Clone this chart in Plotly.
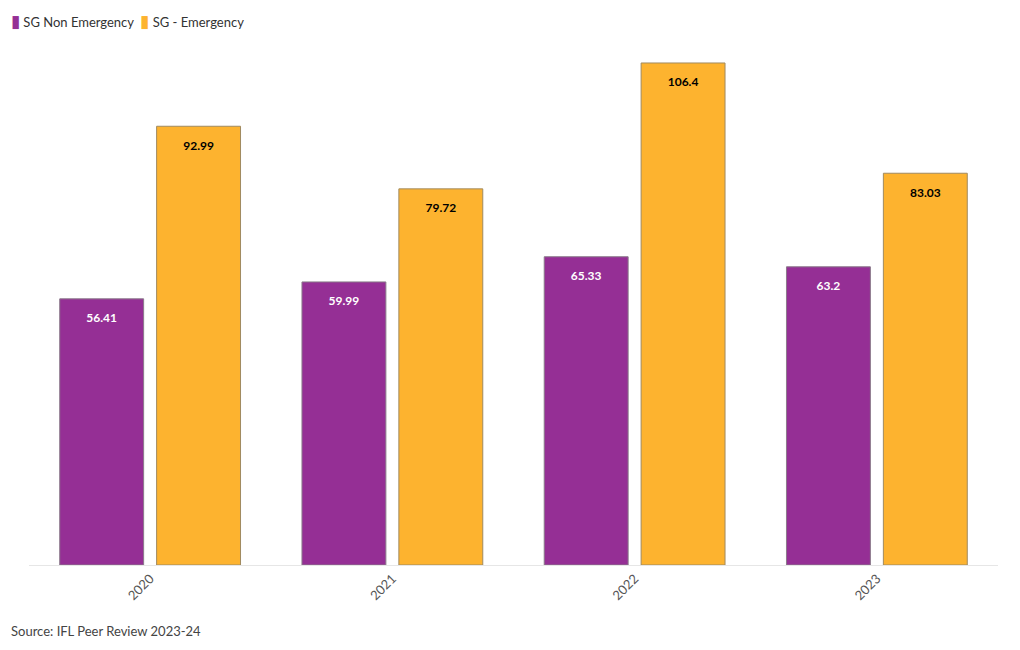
import plotly.graph_objects as go

years = ["2020", "2021", "2022", "2023"]
non_emergency = [56.41, 59.99, 65.33, 63.2]
emergency = [92.99, 79.72, 106.4, 83.03]
series_names = ["SG Non Emergency", "SG - Emergency"]
series_colors = ["#952f95", "#fdb32f"]
source_text = "Source: IFL Peer Review 2023-24"

FONT = "Lato, 'Noto Sans', sans-serif"
LABEL_TMPL = "&nbsp;<br><span style='font-size:12px'><b>%{text}</b></span>"

fig = go.Figure()
fig.add_trace(go.Bar(
    x=years, y=non_emergency, name=series_names[0],
    marker=dict(color=series_colors[0], line=dict(color="#8a7a8a", width=1)),
    text=[str(v) for v in non_emergency], texttemplate=LABEL_TMPL,
    textposition="inside", insidetextanchor="end", textangle=0,
    textfont=dict(color="white", size=8.7, family=FONT),
))
fig.add_trace(go.Bar(
    x=years, y=emergency, name=series_names[1],
    marker=dict(color=series_colors[1], line=dict(color="#a08a60", width=1)),
    text=[str(v) for v in emergency], texttemplate=LABEL_TMPL,
    textposition="inside", insidetextanchor="end", textangle=0,
    textfont=dict(color="black", size=8.7, family=FONT),
))

legend_text = "&nbsp;&nbsp;".join(
    f"<span style='color:{c};font-size:17px'>▮</span> {n}"
    for n, c in zip(series_names, series_colors)
)

fig.update_layout(
    width=1020, height=650,
    margin=dict(l=21, r=30, t=32, b=93, autoexpand=False),
    paper_bgcolor="white", plot_bgcolor="white",
    font=dict(family=FONT, size=13, color="#333"),
    barmode="group", bargap=0.2, bargroupgap=0.134,
    showlegend=False,
    xaxis=dict(tickangle=-45, showgrid=False, showline=True, linecolor="#e6e6e6",
               linewidth=1, ticks="", tickfont=dict(size=13, color="#555")),
    yaxis=dict(range=[0, 111.27], visible=False, showgrid=False),
    annotations=[
        dict(text=legend_text, xref="paper", yref="paper",
             x=-0.0206, y=1.038, xanchor="left", yanchor="middle",
             showarrow=False, font=dict(size=13, color="#333")),
        dict(text=source_text, xref="paper", yref="paper",
             x=-0.0206, y=-0.1257, xanchor="left", yanchor="middle",
             showarrow=False, font=dict(size=13, color="#444")),
    ],
)

fig.write_html("out.html")
